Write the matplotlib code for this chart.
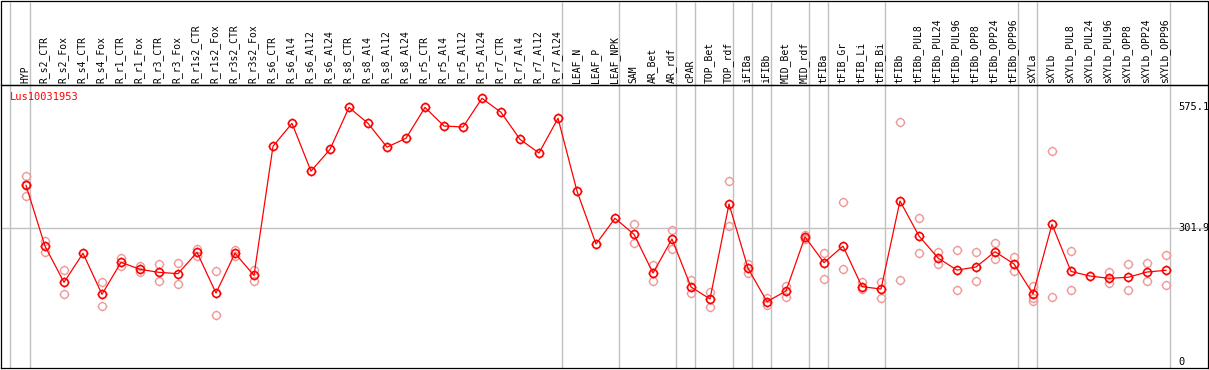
import matplotlib
matplotlib.use("Agg")
import matplotlib.pyplot as plt
import matplotlib.path as mpath
import matplotlib.transforms as mtransforms
from matplotlib.patches import Rectangle
import numpy as np

nan = np.nan

gene = "Lus10031953"

labels = ["HYP", "R_s2_CTR", "R_s2_Fox", "R_s4_CTR", "R_s4_Fox", "R_r1_CTR", "R_r1_Fox",
          "R_r3_CTR", "R_r3_Fox", "R_r1s2_CTR", "R_r1s2_Fox", "R_r3s2_CTR", "R_r3s2_Fox",
          "R_s6_CTR", "R_s6_Al4", "R_s6_Al12", "R_s6_Al24", "R_s8_CTR", "R_s8_Al4",
          "R_s8_Al12", "R_s8_Al24", "R_r5_CTR", "R_r5_Al4", "R_r5_Al12", "R_r5_Al24",
          "R_r7_CTR", "R_r7_Al4", "R_r7_Al12", "R_r7_Al24", "LEAF_N", "LEAF_P", "LEAF_NPK",
          "SAM", "AR_Bet", "AR_rdf", "cPAR", "TOP_Bet", "TOP_rdf", "iFIBa", "iFIBb",
          "MID_Bet", "MID_rdf", "tFIBa", "tFIB_Gr", "tFIB_Li", "tFIB_Bi", "tFIBb",
          "tFIBb_PUL8", "tFIBb_PUL24", "tFIBb_PUL96", "tFIBb_OPP8", "tFIBb_OPP24",
          "tFIBb_OPP96", "sXYLa", "sXYLb", "sXYLb_PUL8", "sXYLb_PUL24", "sXYLb_PUL96",
          "sXYLb_OPP8", "sXYLb_OPP24", "sXYLb_OPP96"]

means = [398, 261, 179.5, 245, 152.5, 224.6, 208.8, 202, 199, 247, 155.4, 245, 195,
         486, 537.6, 430, 479, 573.6, 537.6, 484, 504, 573.6, 531.6, 529.4, 594,
         562.5, 501.6, 470.8, 549, 385, 265.8, 323.7,
         287.6, 200.5, 277, 169, 142, 356, 211, 136, 160, 282, 223.8, 261, 169.7, 164.4,
         362.7, 283.8, 234.3, 207, 214, 248.5, 220.8, 153, 310, 204, 193.7, 188.5,
         190.8, 202.7, 206.6]

rep_a = [419, 273, 206.5, nan, 179.5, 233.5, 216, 221, 223, 254.6, 204, 251.6, 207,
         nan, nan, nan, nan, nan, nan, nan, nan, nan, nan, nan, nan, nan, nan, nan, nan,
         nan, nan, nan,
         312, 218.5, 297, 184.7, 158.4, 407.7, 220.8, 143.5, 172, 286, 246, 359.7, 181,
         179.5, 540, 323.7, 247, 251.6, 247, 267, 235.8, 171, 475, 249, nan, 202.7,
         220.8, 223, 241]

rep_b = [374, 248, 152.5, nan, 125.5, 217, 203, 182, 175, 239.5, 105, 239.5, 182,
         nan, nan, nan, nan, nan, nan, nan, nan, nan, nan, nan, nan, nan, nan, nan, nan,
         nan, nan, nan,
         267, 181.7, 254, 154.7, 123, 306, 201, 128.4, 145.7, 277, 186, 209.5, 163.6,
         143.5, 184.7, 245, 220.8, 162, 181.7, 231.3, 205.7, 138, 145.7, 162, nan, 177,
         162, 181.7, 172.8]

rep_c = [400] + [nan] * 52 + [145] + [nan] * 7

# group separators (index of last sample in each group)
group_ends = [0, 28, 31, 34, 35, 37, 38, 39, 41, 42, 45, 52, 53, 60]
ytick_vals = [575.1, 301.9, 0]

W, H = 1209, 370
fig = plt.figure(figsize=(W / 100, H / 100), dpi=100)
ax = fig.add_axes([1 / W, 1 - 368 / H, 1207 / W, 283 / H])

x = np.arange(len(labels))
ax.set_xlim((1 - 26) / 19, (1208 - 26) / 19)
ax.set_ylim((362 - 368) / 0.4439, (362 - 85) / 0.4439)

# marker: open circle with little ticks
circ = mpath.Path.unit_circle()
tick_verts, tick_codes = [], []
for a in np.deg2rad([0, 90, 180, 270]):
    tick_verts += [(np.cos(a), np.sin(a)), (1.25 * np.cos(a), 1.25 * np.sin(a))]
    tick_codes += [mpath.Path.MOVETO, mpath.Path.LINETO]
mk = mpath.Path.make_compound_path(circ, mpath.Path(tick_verts, tick_codes))

gray = "#c0c0c0"
header_top = 1 + 83 / 283
trans_xa = mtransforms.blended_transform_factory(ax.transData, ax.transAxes)
ax.vlines([g + 0.21 for g in group_ends] + [(10 - 26) / 19], 0, header_top,
          transform=trans_xa, colors=gray, lw=1, clip_on=False, zorder=1)
ax.axhline(301.9, color=gray, lw=1, zorder=1)

pink = "#ef9a9a"
for reps in (rep_a, rep_b, rep_c):
    ax.plot(x, reps, ls="none", marker=mk, ms=7, mfc="none", mec=pink, mew=1, zorder=2)
ax.plot(x, means, color="red", lw=0.9, marker=mk, ms=7, mfc="none", mec="red",
        mew=1.2, zorder=3)

mono = "DejaVu Sans Mono"
for i, lab in enumerate(labels):
    ax.text(i - 0.05, 1 + 2 / 283, lab, transform=trans_xa, rotation=90, ha="center",
            va="bottom", fontsize=7, family=mono, clip_on=False)

ax.text((10 - 26) / 19, (368 - 97) / 283, gene, transform=trans_xa, color="red",
        fontsize=7.5, family=mono, va="center", ha="left")

trans_fy = mtransforms.blended_transform_factory(fig.transFigure, ax.transData)
for v in ytick_vals:
    fig.text(1178 / W, v, f"{v:g}", transform=trans_fy, fontsize=7.5, family=mono,
             va="center", ha="left")

ax.set_xticks([])
ax.set_yticks([])
for s in ax.spines.values():
    s.set_color("black")
    s.set_linewidth(0.9)

fig.patches.append(Rectangle((1 / W, 1 - 85 / H), 1207 / W, 84 / H, transform=fig.transFigure,
                             fill=False, edgecolor="black", lw=0.9))

fig.savefig("out.png", dpi=100)
